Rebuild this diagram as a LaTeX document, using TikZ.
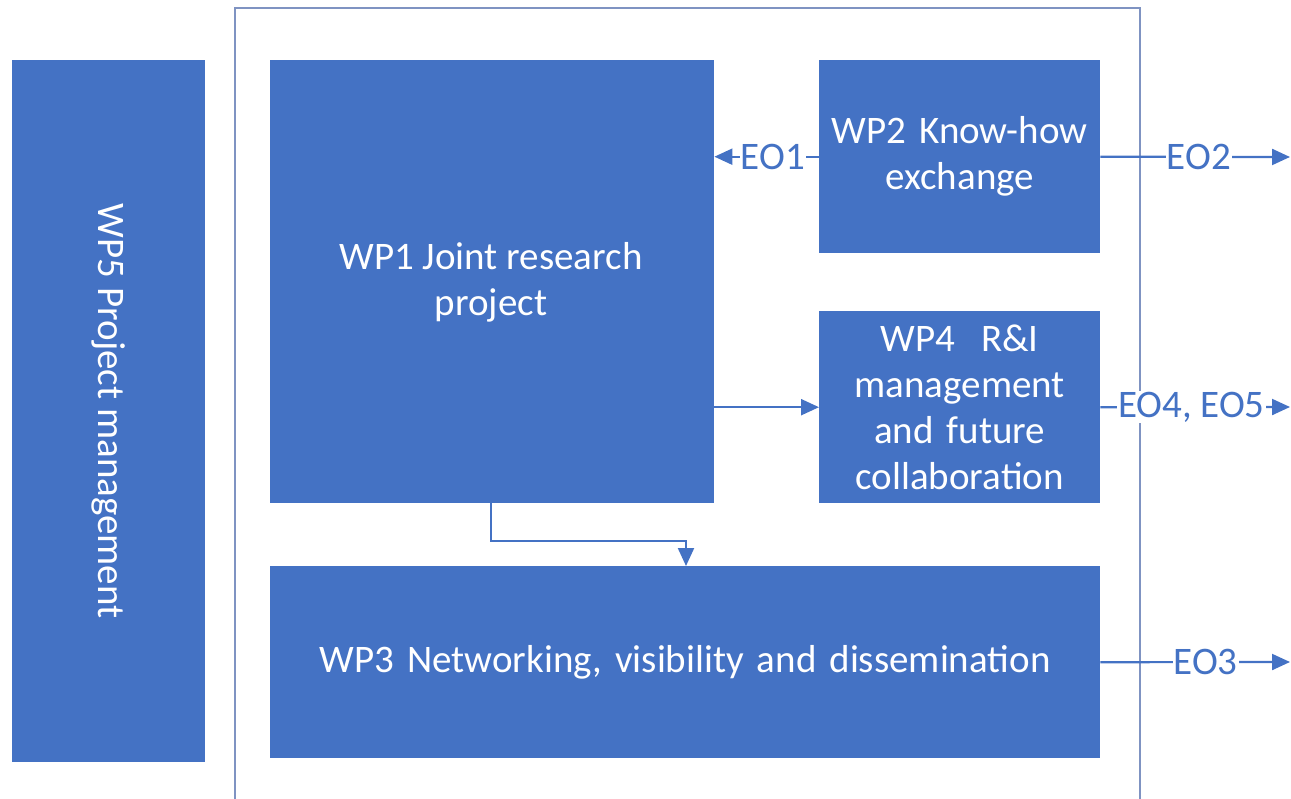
\documentclass[tikz,border=0pt]{standalone}
\usepackage{fontspec}
\setmainfont{Carlito}
\usetikzlibrary{arrows.meta}
\definecolor{wpblue}{HTML}{4472C4}
\definecolor{framec}{HTML}{7F93C2}
\begin{document}
\begin{tikzpicture}[x=1pt,y=-1pt,
  wpfont/.style={font=\fontsize{39}{46}\selectfont},
  wpbox/.style={fill=wpblue, draw=none, text=white, anchor=north west, align=center, inner sep=0pt, wpfont},
  conn/.style={draw=wpblue, line width=2.2pt},
  tip/.style={-{Triangle[length=18pt,width=16pt]}},
  eolab/.style={fill=white, text=wpblue, inner sep=1pt, font=\fontsize{39}{46}\selectfont}]
\useasboundingbox (0,0) rectangle (1291,799);
% frame
\draw[framec, line width=2.2pt] (235,820) -- (235,8) -- (1140,8) -- (1140,820);
% boxes
\node[wpbox, minimum width=193pt, minimum height=702pt] (wp5) at (12,60) {};
\node[rotate=-90, text=white, wpfont] (wp5t) at (wp5.center) {WP5 Project management};
\node[wpbox, minimum width=444pt, minimum height=443pt] (wp1) at (270,60) {};
\node[text=white, align=center, wpfont] (wp1t) at (491,282) {WP1 Joint research\\project};
\node[wpbox, minimum width=281pt, minimum height=193pt, text width=270pt] (wp2) at (819,60) {WP2 Know-how\\exchange};
\node[wpbox, minimum width=281pt, minimum height=192pt, text width=270pt] (wp4) at (819,311) {WP4\ \ R\&I\\management\\and future\\collaboration};
\node[wpbox, minimum width=830pt, minimum height=192pt, text width=820pt] (wp3) at (270,566) {WP3 Networking, visibility and dissemination};
% free ends
\coordinate (e2) at (1290,157);
\coordinate (e4) at (1290,407);
\coordinate (e3) at (1290,662);
\coordinate (c1) at (491,541);
\coordinate (c2) at (686,541);
% connectors
\draw[conn, tip] (wp2.west) -- node[eolab, pos=0.44] (l1) {EO1} (wp1.east |- wp2.west);
\draw[conn, tip] (wp2.east) -- node[eolab, pos=0.52] (l2) {EO2} (e2);
\draw[conn, tip] (wp1.east |- wp4.west) -- (wp4.west);
\draw[conn, tip] (wp4.east) -- node[eolab, pos=0.48] (l4) {EO4, EO5} (e4);
\draw[conn, tip] (wp3.east) -- node[eolab, pos=0.555] (l3) {EO3} (e3);
\draw[conn, tip] (wp1.south -| c1) |- (c2) -- (wp3.north -| c2);
\end{tikzpicture}
\end{document}
